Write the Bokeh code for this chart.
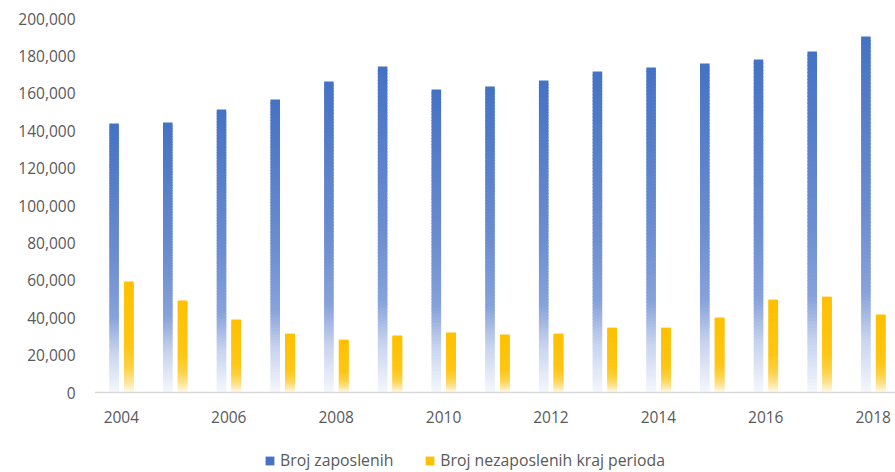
from bokeh.plotting import figure
from bokeh.models import (ColumnDataSource, Range1d, FixedTicker, Legend, LegendItem,
                          NumeralTickFormatter)
from bokeh.embed import file_html
from bokeh.resources import INLINE

# ---- data ----
years = ["2004", "2005", "2006", "2007", "2008", "2009", "2010", "2011",
         "2012", "2013", "2014", "2015", "2016", "2017", "2018"]
employed = [143800, 144400, 151300, 156700, 166300, 174300, 162000, 163600,
            166800, 171700, 173800, 175900, 178100, 182400, 190400]
unemployed = [59400, 49200, 39000, 31500, 28300, 30500, 32100, 31000,
              31500, 34700, 34700, 40100, 49700, 51300, 41700]
series_names = ["Broj zaposlenih", "Broj nezaposlenih kraj perioda"]
y_ticks = [0, 20000, 40000, 60000, 80000, 100000, 120000, 140000, 160000, 180000, 200000]
x_tick_idx = [0, 2, 4, 6, 8, 10, 12, 14]

# gradient stops (fraction from top of bar, rgb)
blue_stops = [(0.0, (68, 114, 196)), (0.5, (108, 141, 208)), (0.72, (135, 162, 219)),
              (0.85, (200, 212, 238)), (1.0, (244, 247, 252))]
gold_stops = [(0.0, (255, 192, 0)), (0.6, (255, 198, 20)), (0.78, (255, 210, 70)),
              (0.9, (255, 228, 150)), (1.0, (255, 250, 236))]


def interp(stops, t):
    for (t0, c0), (t1, c1) in zip(stops[:-1], stops[1:]):
        if t0 <= t <= t1:
            f = (t - t0) / (t1 - t0) if t1 > t0 else 0
            c = [round(a + (b - a) * f) for a, b in zip(c0, c1)]
            return "#%02x%02x%02x" % tuple(c)
    c = stops[-1][1]
    return "#%02x%02x%02x" % tuple(c)


def gradient_source(offset, values, stops, n=100, overlap=700):
    # slices drawn top-first; each slice extends under the next one to avoid seams
    xs, tops, bots, cols = [], [], [], []
    for k in range(n):
        t = (k + 0.5) / n
        col = interp(stops, t)
        for i, v in enumerate(values):
            top = v * (1 - k / n)
            bot = v * (1 - (k + 1) / n)
            xs.append(i + offset)
            tops.append(top)
            bots.append(max(0, bot - overlap))
            cols.append(col)
    return ColumnDataSource(dict(x=xs, top=tops, bottom=bots, color=cols))


# frame runs to the bottom edge; y below 0 holds the axis labels and the legend
y_bottom = -200000 * 80 / 374
p = figure(width=895, height=472, output_backend="svg", toolbar_location=None,
           x_range=Range1d(-0.5, 14.416), y_range=Range1d(y_bottom, 200000),
           min_border_left=94, min_border_right=0, min_border_top=18, min_border_bottom=0)
p.outline_line_color = None
p.background_fill_color = "white"
p.xgrid.visible = False
p.ygrid.visible = False

bar_w = 0.178
src_b = gradient_source(-0.135, employed, blue_stops)
src_g = gradient_source(0.14, unemployed, gold_stops)
rb = p.vbar(x="x", top="top", bottom="bottom", width=bar_w, source=src_b,
            fill_color="color", line_color=None)
rg = p.vbar(x="x", top="top", bottom="bottom", width=bar_w, source=src_g,
            fill_color="color", line_color=None)

text_col = "#595959"
# x axis, fixed at y = 0
p.xaxis.fixed_location = 0
p.xaxis.ticker = FixedTicker(ticks=x_tick_idx)
p.xaxis.major_label_overrides = {i: years[i] for i in x_tick_idx}
p.xaxis.major_tick_line_color = None
p.xaxis.minor_tick_line_color = None
p.xaxis.axis_line_color = "#d9d9d9"
p.xaxis.axis_line_width = 1.5
p.xaxis.major_label_text_font = "Open Sans"
p.xaxis.major_label_text_font_size = "15.5px"
p.xaxis.major_label_text_color = text_col
p.xaxis.major_label_standoff = 12
# y axis
p.yaxis.ticker = FixedTicker(ticks=y_ticks)
p.yaxis.formatter = NumeralTickFormatter(format="0,0")
p.yaxis.major_tick_line_color = None
p.yaxis.minor_tick_line_color = None
p.yaxis.axis_line_color = None
p.yaxis.major_label_text_font = "Open Sans"
p.yaxis.major_label_text_font_size = "15.5px"
p.yaxis.major_label_text_color = text_col
p.yaxis.major_label_standoff = 13

legend = Legend(items=[LegendItem(label=series_names[0], renderers=[rb], index=0),
                       LegendItem(label=series_names[1], renderers=[rg], index=0)],
                orientation="horizontal", location=(170, 1),
                glyph_width=11, glyph_height=11, label_standoff=5, spacing=31,
                padding=0, margin=0, border_line_color=None, background_fill_alpha=0,
                label_text_font="Open Sans", label_text_font_size="15.8px",
                label_text_color=text_col)
p.add_layout(legend, "center")

open("out.html", "w").write(file_html(p, INLINE))
